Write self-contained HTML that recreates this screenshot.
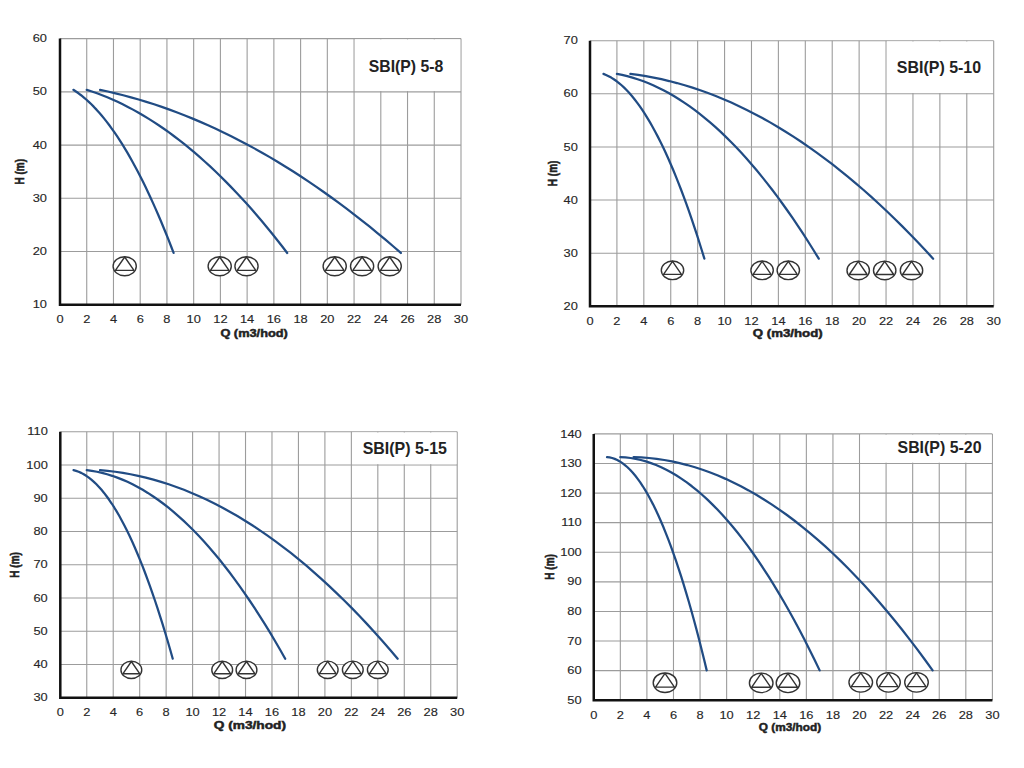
<!DOCTYPE html>
<html><head><meta charset="utf-8"><style>
html,body{margin:0;padding:0;background:#fff;}
svg{display:block;}
.tk{font-family:"Liberation Sans",sans-serif;font-size:10.2px;fill:#262626;stroke:#262626;stroke-width:0.12px;}
.lb{font-family:"Liberation Sans",sans-serif;font-size:10.0px;font-weight:bold;fill:#222;stroke:#222;stroke-width:0.45px;}
.tt{font-family:"Liberation Sans",sans-serif;font-size:15.7px;font-weight:bold;fill:#222;}
</style></head><body>
<svg width="1024" height="768" viewBox="0 0 1024 768">
<rect width="1024" height="768" fill="#fff"/>
<g stroke="#9c9c9c" stroke-width="1.1"><line x1="86.73" y1="38.6" x2="86.73" y2="304.8"/><line x1="113.47" y1="38.6" x2="113.47" y2="304.8"/><line x1="140.2" y1="38.6" x2="140.2" y2="304.8"/><line x1="166.93" y1="38.6" x2="166.93" y2="304.8"/><line x1="193.67" y1="38.6" x2="193.67" y2="304.8"/><line x1="220.4" y1="38.6" x2="220.4" y2="304.8"/><line x1="247.13" y1="38.6" x2="247.13" y2="304.8"/><line x1="273.87" y1="38.6" x2="273.87" y2="304.8"/><line x1="300.6" y1="38.6" x2="300.6" y2="304.8"/><line x1="327.33" y1="38.6" x2="327.33" y2="304.8"/><line x1="354.07" y1="38.6" x2="354.07" y2="304.8"/><line x1="380.8" y1="38.6" x2="380.8" y2="304.8"/><line x1="407.53" y1="38.6" x2="407.53" y2="304.8"/><line x1="434.27" y1="38.6" x2="434.27" y2="304.8"/><line x1="461" y1="38.6" x2="461" y2="304.8"/><line x1="60" y1="251.56" x2="461" y2="251.56"/><line x1="60" y1="198.32" x2="461" y2="198.32"/><line x1="60" y1="145.08" x2="461" y2="145.08"/><line x1="60" y1="91.84" x2="461" y2="91.84"/><line x1="60" y1="38.6" x2="461" y2="38.6"/></g>
<rect x="354.87" y="39.4" width="105.33" height="51.64" fill="#fff"/>
<text transform="translate(368.83 71.6) scale(1.0046 1)" class="tt">SBI(P) 5-8</text>
<path d="M60 38.6V304.8H461" stroke="#111" stroke-width="2.5" fill="none"/>
<g class="tk"><text transform="translate(46.94 308.4) scale(1.26 1)" text-anchor="end">10</text><text transform="translate(46.94 255.16) scale(1.26 1)" text-anchor="end">20</text><text transform="translate(46.94 201.92) scale(1.26 1)" text-anchor="end">30</text><text transform="translate(46.94 148.68) scale(1.26 1)" text-anchor="end">40</text><text transform="translate(46.94 95.44) scale(1.26 1)" text-anchor="end">50</text><text transform="translate(46.94 42.2) scale(1.26 1)" text-anchor="end">60</text><text transform="translate(60 323.4) scale(1.26 1)" text-anchor="middle">0</text><text transform="translate(86.73 323.4) scale(1.26 1)" text-anchor="middle">2</text><text transform="translate(113.47 323.4) scale(1.26 1)" text-anchor="middle">4</text><text transform="translate(140.2 323.4) scale(1.26 1)" text-anchor="middle">6</text><text transform="translate(166.93 323.4) scale(1.26 1)" text-anchor="middle">8</text><text transform="translate(193.67 323.4) scale(1.26 1)" text-anchor="middle">10</text><text transform="translate(220.4 323.4) scale(1.26 1)" text-anchor="middle">12</text><text transform="translate(247.13 323.4) scale(1.26 1)" text-anchor="middle">14</text><text transform="translate(273.87 323.4) scale(1.26 1)" text-anchor="middle">16</text><text transform="translate(300.6 323.4) scale(1.26 1)" text-anchor="middle">18</text><text transform="translate(327.33 323.4) scale(1.26 1)" text-anchor="middle">20</text><text transform="translate(354.07 323.4) scale(1.26 1)" text-anchor="middle">22</text><text transform="translate(380.8 323.4) scale(1.26 1)" text-anchor="middle">24</text><text transform="translate(407.53 323.4) scale(1.26 1)" text-anchor="middle">26</text><text transform="translate(434.27 323.4) scale(1.26 1)" text-anchor="middle">28</text><text transform="translate(461 323.4) scale(1.26 1)" text-anchor="middle">30</text></g>
<text transform="translate(23.6 171.8) scale(1.36 1) rotate(-90)" text-anchor="middle" class="lb">H (m)</text>
<text transform="translate(220.39 336.6) scale(1.2775 1)" class="lb">Q (m3/hod)</text>
<g stroke="#214c84" stroke-width="2.25" fill="none" stroke-linecap="round" stroke-linejoin="round"><path d="M73.37 89.81 L75.94 91.48 L78.51 93.29 L81.08 95.23 L83.65 97.3 L86.22 99.5 L88.79 101.84 L91.36 104.3 L93.93 106.9 L96.5 109.63 L99.07 112.5 L101.64 115.49 L104.21 118.62 L106.78 121.88 L109.35 125.27 L111.92 128.79 L114.49 132.44 L117.07 136.23 L119.64 140.15 L122.21 144.2 L124.78 148.38 L127.35 152.7 L129.92 157.15 L132.49 161.72 L135.06 166.43 L137.63 171.28 L140.2 176.25 L142.77 181.36 L145.34 186.6 L147.91 191.97 L150.48 197.47 L153.05 203.11 L155.62 208.87 L158.19 214.77 L160.76 220.8 L163.33 226.97 L165.91 233.26 L168.48 239.69 L171.05 246.25 L173.62 252.94"/><path d="M86.73 89.81 L91.87 91.48 L97.02 93.29 L102.16 95.23 L107.3 97.3 L112.44 99.5 L117.58 101.84 L122.72 104.3 L127.86 106.9 L133 109.63 L138.14 112.5 L143.28 115.49 L148.43 118.62 L153.57 121.88 L158.71 125.27 L163.85 128.79 L168.99 132.44 L174.13 136.23 L179.27 140.15 L184.41 144.2 L189.55 148.38 L194.69 152.7 L199.84 157.15 L204.98 161.72 L210.12 166.43 L215.26 171.28 L220.4 176.25 L225.54 181.36 L230.68 186.6 L235.82 191.97 L240.96 197.47 L246.11 203.11 L251.25 208.87 L256.39 214.77 L261.53 220.8 L266.67 226.97 L271.81 233.26 L276.95 239.69 L282.09 246.25 L287.23 252.94"/><path d="M100.1 89.81 L107.81 91.48 L115.52 93.29 L123.23 95.23 L130.95 97.3 L138.66 99.5 L146.37 101.84 L154.08 104.3 L161.79 106.9 L169.5 109.63 L177.22 112.5 L184.93 115.49 L192.64 118.62 L200.35 121.88 L208.06 125.27 L215.77 128.79 L223.48 132.44 L231.2 136.23 L238.91 140.15 L246.62 144.2 L254.33 148.38 L262.04 152.7 L269.75 157.15 L277.47 161.72 L285.18 166.43 L292.89 171.28 L300.6 176.25 L308.31 181.36 L316.02 186.6 L323.73 191.97 L331.45 197.47 L339.16 203.11 L346.87 208.87 L354.58 214.77 L362.29 220.8 L370 226.97 L377.72 233.26 L385.43 239.69 L393.14 246.25 L400.85 252.94"/></g>
<g stroke="#333" stroke-width="1.4" fill="#fff" stroke-linejoin="round"><ellipse cx="124.7" cy="266.2" rx="11.6" ry="9.5"/><path d="M124.7 256.99L133.98 270.38H115.42Z"/><ellipse cx="219.7" cy="266.2" rx="11.6" ry="9.5"/><path d="M219.7 256.99L228.98 270.38H210.42Z"/><ellipse cx="246.5" cy="266.2" rx="11.6" ry="9.5"/><path d="M246.5 256.99L255.78 270.38H237.22Z"/><ellipse cx="334.7" cy="266.2" rx="11.6" ry="9.5"/><path d="M334.7 256.99L343.98 270.38H325.42Z"/><ellipse cx="362.1" cy="266.2" rx="11.6" ry="9.5"/><path d="M362.1 256.99L371.38 270.38H352.82Z"/><ellipse cx="389.7" cy="266.2" rx="11.6" ry="9.5"/><path d="M389.7 256.99L398.98 270.38H380.42Z"/></g>
<g stroke="#9c9c9c" stroke-width="1.1"><line x1="616.91" y1="40.7" x2="616.91" y2="306.3"/><line x1="643.83" y1="40.7" x2="643.83" y2="306.3"/><line x1="670.74" y1="40.7" x2="670.74" y2="306.3"/><line x1="697.65" y1="40.7" x2="697.65" y2="306.3"/><line x1="724.57" y1="40.7" x2="724.57" y2="306.3"/><line x1="751.48" y1="40.7" x2="751.48" y2="306.3"/><line x1="778.39" y1="40.7" x2="778.39" y2="306.3"/><line x1="805.31" y1="40.7" x2="805.31" y2="306.3"/><line x1="832.22" y1="40.7" x2="832.22" y2="306.3"/><line x1="859.13" y1="40.7" x2="859.13" y2="306.3"/><line x1="886.05" y1="40.7" x2="886.05" y2="306.3"/><line x1="912.96" y1="40.7" x2="912.96" y2="306.3"/><line x1="939.87" y1="40.7" x2="939.87" y2="306.3"/><line x1="966.79" y1="40.7" x2="966.79" y2="306.3"/><line x1="993.7" y1="40.7" x2="993.7" y2="306.3"/><line x1="590" y1="253.18" x2="993.7" y2="253.18"/><line x1="590" y1="200.06" x2="993.7" y2="200.06"/><line x1="590" y1="146.94" x2="993.7" y2="146.94"/><line x1="590" y1="93.82" x2="993.7" y2="93.82"/><line x1="590" y1="40.7" x2="993.7" y2="40.7"/></g>
<rect x="886.85" y="41.5" width="106.05" height="51.52" fill="#fff"/>
<text transform="translate(896.82 73.1) scale(1.0184 1)" class="tt">SBI(P) 5-10</text>
<path d="M590 40.7V306.3H993.7" stroke="#111" stroke-width="2.5" fill="none"/>
<g class="tk"><text transform="translate(577.84 309.9) scale(1.26 1)" text-anchor="end">20</text><text transform="translate(577.84 256.78) scale(1.26 1)" text-anchor="end">30</text><text transform="translate(577.84 203.66) scale(1.26 1)" text-anchor="end">40</text><text transform="translate(577.84 150.54) scale(1.26 1)" text-anchor="end">50</text><text transform="translate(577.84 97.42) scale(1.26 1)" text-anchor="end">60</text><text transform="translate(577.84 44.3) scale(1.26 1)" text-anchor="end">70</text><text transform="translate(590 324.9) scale(1.26 1)" text-anchor="middle">0</text><text transform="translate(616.91 324.9) scale(1.26 1)" text-anchor="middle">2</text><text transform="translate(643.83 324.9) scale(1.26 1)" text-anchor="middle">4</text><text transform="translate(670.74 324.9) scale(1.26 1)" text-anchor="middle">6</text><text transform="translate(697.65 324.9) scale(1.26 1)" text-anchor="middle">8</text><text transform="translate(724.57 324.9) scale(1.26 1)" text-anchor="middle">10</text><text transform="translate(751.48 324.9) scale(1.26 1)" text-anchor="middle">12</text><text transform="translate(778.39 324.9) scale(1.26 1)" text-anchor="middle">14</text><text transform="translate(805.31 324.9) scale(1.26 1)" text-anchor="middle">16</text><text transform="translate(832.22 324.9) scale(1.26 1)" text-anchor="middle">18</text><text transform="translate(859.13 324.9) scale(1.26 1)" text-anchor="middle">20</text><text transform="translate(886.05 324.9) scale(1.26 1)" text-anchor="middle">22</text><text transform="translate(912.96 324.9) scale(1.26 1)" text-anchor="middle">24</text><text transform="translate(939.87 324.9) scale(1.26 1)" text-anchor="middle">26</text><text transform="translate(966.79 324.9) scale(1.26 1)" text-anchor="middle">28</text><text transform="translate(993.7 324.9) scale(1.26 1)" text-anchor="middle">30</text></g>
<text transform="translate(557 173.4) scale(1.36 1) rotate(-90)" text-anchor="middle" class="lb">H (m)</text>
<text transform="translate(752.87 337.3) scale(1.3237 1)" class="lb">Q (m3/hod)</text>
<g stroke="#214c84" stroke-width="2.25" fill="none" stroke-linecap="round" stroke-linejoin="round"><path d="M603.46 73.88 L606.04 74.92 L608.63 76.16 L611.22 77.59 L613.81 79.21 L616.4 81.03 L618.98 83.04 L621.57 85.25 L624.16 87.66 L626.75 90.25 L629.33 93.05 L631.92 96.03 L634.51 99.21 L637.1 102.59 L639.69 106.16 L642.27 109.93 L644.86 113.89 L647.45 118.04 L650.04 122.39 L652.63 126.94 L655.21 131.67 L657.8 136.61 L660.39 141.74 L662.98 147.06 L665.56 152.58 L668.15 158.29 L670.74 164.19 L673.33 170.3 L675.92 176.59 L678.5 183.08 L681.09 189.77 L683.68 196.65 L686.27 203.72 L688.85 210.99 L691.44 218.46 L694.03 226.11 L696.62 233.97 L699.21 242.01 L701.79 250.26 L704.38 258.69"/><path d="M616.91 73.88 L622.09 74.92 L627.26 76.16 L632.44 77.59 L637.62 79.21 L642.79 81.03 L647.97 83.04 L653.14 85.25 L658.32 87.66 L663.49 90.25 L668.67 93.05 L673.85 96.03 L679.02 99.21 L684.2 102.59 L689.37 106.16 L694.55 109.93 L699.72 113.89 L704.9 118.04 L710.07 122.39 L715.25 126.94 L720.43 131.67 L725.6 136.61 L730.78 141.74 L735.95 147.06 L741.13 152.58 L746.3 158.29 L751.48 164.19 L756.66 170.3 L761.83 176.59 L767.01 183.08 L772.18 189.77 L777.36 196.65 L782.53 203.72 L787.71 210.99 L792.89 218.46 L798.06 226.11 L803.24 233.97 L808.41 242.01 L813.59 250.26 L818.76 258.69"/><path d="M630.37 73.88 L638.13 74.92 L645.9 76.16 L653.66 77.59 L661.42 79.21 L669.19 81.03 L676.95 83.04 L684.71 85.25 L692.48 87.66 L700.24 90.25 L708 93.05 L715.77 96.03 L723.53 99.21 L731.3 102.59 L739.06 106.16 L746.82 109.93 L754.59 113.89 L762.35 118.04 L770.11 122.39 L777.88 126.94 L785.64 131.67 L793.4 136.61 L801.17 141.74 L808.93 147.06 L816.69 152.58 L824.46 158.29 L832.22 164.19 L839.98 170.3 L847.75 176.59 L855.51 183.08 L863.27 189.77 L871.04 196.65 L878.8 203.72 L886.56 210.99 L894.33 218.46 L902.09 226.11 L909.85 233.97 L917.62 242.01 L925.38 250.26 L933.14 258.69"/></g>
<g stroke="#333" stroke-width="1.4" fill="#fff" stroke-linejoin="round"><ellipse cx="672.5" cy="270.3" rx="11.2" ry="9.3"/><path d="M672.5 261.28L681.46 274.39H663.54Z"/><ellipse cx="762.1" cy="270.3" rx="11.2" ry="9.3"/><path d="M762.1 261.28L771.06 274.39H753.14Z"/><ellipse cx="788.3" cy="270.3" rx="11.2" ry="9.3"/><path d="M788.3 261.28L797.26 274.39H779.34Z"/><ellipse cx="858.2" cy="270.4" rx="11.2" ry="9.3"/><path d="M858.2 261.38L867.16 274.49H849.24Z"/><ellipse cx="884.7" cy="270.4" rx="11.2" ry="9.3"/><path d="M884.7 261.38L893.66 274.49H875.74Z"/><ellipse cx="911.5" cy="270.4" rx="11.2" ry="9.3"/><path d="M911.5 261.38L920.46 274.49H902.54Z"/></g>
<g stroke="#9c9c9c" stroke-width="1.1"><line x1="86.76" y1="431.7" x2="86.76" y2="697.7"/><line x1="113.22" y1="431.7" x2="113.22" y2="697.7"/><line x1="139.68" y1="431.7" x2="139.68" y2="697.7"/><line x1="166.14" y1="431.7" x2="166.14" y2="697.7"/><line x1="192.6" y1="431.7" x2="192.6" y2="697.7"/><line x1="219.06" y1="431.7" x2="219.06" y2="697.7"/><line x1="245.52" y1="431.7" x2="245.52" y2="697.7"/><line x1="271.98" y1="431.7" x2="271.98" y2="697.7"/><line x1="298.44" y1="431.7" x2="298.44" y2="697.7"/><line x1="324.9" y1="431.7" x2="324.9" y2="697.7"/><line x1="351.36" y1="431.7" x2="351.36" y2="697.7"/><line x1="377.82" y1="431.7" x2="377.82" y2="697.7"/><line x1="404.28" y1="431.7" x2="404.28" y2="697.7"/><line x1="430.74" y1="431.7" x2="430.74" y2="697.7"/><line x1="457.2" y1="431.7" x2="457.2" y2="697.7"/><line x1="60.3" y1="664.45" x2="457.2" y2="664.45"/><line x1="60.3" y1="631.2" x2="457.2" y2="631.2"/><line x1="60.3" y1="597.95" x2="457.2" y2="597.95"/><line x1="60.3" y1="564.7" x2="457.2" y2="564.7"/><line x1="60.3" y1="531.45" x2="457.2" y2="531.45"/><line x1="60.3" y1="498.2" x2="457.2" y2="498.2"/><line x1="60.3" y1="464.95" x2="457.2" y2="464.95"/><line x1="60.3" y1="431.7" x2="457.2" y2="431.7"/></g>
<rect x="352.16" y="432.5" width="104.24" height="31.65" fill="#fff"/>
<text transform="translate(362.72 454.4) scale(1.0164 1)" class="tt">SBI(P) 5-15</text>
<path d="M60.3 431.7V697.7H457.2" stroke="#111" stroke-width="2.5" fill="none"/>
<g class="tk"><text transform="translate(47.74 701.3) scale(1.26 1)" text-anchor="end">30</text><text transform="translate(47.74 668.05) scale(1.26 1)" text-anchor="end">40</text><text transform="translate(47.74 634.8) scale(1.26 1)" text-anchor="end">50</text><text transform="translate(47.74 601.55) scale(1.26 1)" text-anchor="end">60</text><text transform="translate(47.74 568.3) scale(1.26 1)" text-anchor="end">70</text><text transform="translate(47.74 535.05) scale(1.26 1)" text-anchor="end">80</text><text transform="translate(47.74 501.8) scale(1.26 1)" text-anchor="end">90</text><text transform="translate(47.77 468.55) scale(1.26 1)" text-anchor="end">100</text><text transform="translate(47.77 435.3) scale(1.26 1)" text-anchor="end">110</text><text transform="translate(60.3 716.3) scale(1.26 1)" text-anchor="middle">0</text><text transform="translate(86.76 716.3) scale(1.26 1)" text-anchor="middle">2</text><text transform="translate(113.22 716.3) scale(1.26 1)" text-anchor="middle">4</text><text transform="translate(139.68 716.3) scale(1.26 1)" text-anchor="middle">6</text><text transform="translate(166.14 716.3) scale(1.26 1)" text-anchor="middle">8</text><text transform="translate(192.6 716.3) scale(1.26 1)" text-anchor="middle">10</text><text transform="translate(219.06 716.3) scale(1.26 1)" text-anchor="middle">12</text><text transform="translate(245.52 716.3) scale(1.26 1)" text-anchor="middle">14</text><text transform="translate(271.98 716.3) scale(1.26 1)" text-anchor="middle">16</text><text transform="translate(298.44 716.3) scale(1.26 1)" text-anchor="middle">18</text><text transform="translate(324.9 716.3) scale(1.26 1)" text-anchor="middle">20</text><text transform="translate(351.36 716.3) scale(1.26 1)" text-anchor="middle">22</text><text transform="translate(377.82 716.3) scale(1.26 1)" text-anchor="middle">24</text><text transform="translate(404.28 716.3) scale(1.26 1)" text-anchor="middle">26</text><text transform="translate(430.74 716.3) scale(1.26 1)" text-anchor="middle">28</text><text transform="translate(457.2 716.3) scale(1.26 1)" text-anchor="middle">30</text></g>
<text transform="translate(19 564.9) scale(1.36 1) rotate(-90)" text-anchor="middle" class="lb">H (m)</text>
<text transform="translate(213.85 729.2) scale(1.3680 1)" class="lb">Q (m3/hod)</text>
<g stroke="#214c84" stroke-width="2.25" fill="none" stroke-linecap="round" stroke-linejoin="round"><path d="M73.53 470.12 L76.07 470.83 L78.62 471.75 L81.16 472.88 L83.71 474.24 L86.25 475.81 L88.8 477.6 L91.34 479.61 L93.88 481.84 L96.43 484.28 L98.97 486.94 L101.52 489.82 L104.06 492.92 L106.6 496.23 L109.15 499.76 L111.69 503.51 L114.24 507.47 L116.78 511.66 L119.33 516.06 L121.87 520.68 L124.41 525.51 L126.96 530.57 L129.5 535.84 L132.05 541.32 L134.59 547.03 L137.14 552.95 L139.68 559.09 L142.22 565.45 L144.77 572.03 L147.31 578.82 L149.86 585.83 L152.4 593.06 L154.95 600.5 L157.49 608.16 L160.03 616.04 L162.58 624.14 L165.12 632.46 L167.67 640.99 L170.21 649.74 L172.75 658.71"/><path d="M86.76 470.12 L91.85 470.83 L96.94 471.75 L102.03 472.88 L107.11 474.24 L112.2 475.81 L117.29 477.6 L122.38 479.61 L127.47 481.84 L132.56 484.28 L137.64 486.94 L142.73 489.82 L147.82 492.92 L152.91 496.23 L158 499.76 L163.09 503.51 L168.18 507.47 L173.26 511.66 L178.35 516.06 L183.44 520.68 L188.53 525.51 L193.62 530.57 L198.71 535.84 L203.79 541.32 L208.88 547.03 L213.97 552.95 L219.06 559.09 L224.15 565.45 L229.24 572.03 L234.33 578.82 L239.41 585.83 L244.5 593.06 L249.59 600.5 L254.68 608.16 L259.77 616.04 L264.86 624.14 L269.94 632.46 L275.03 640.99 L280.12 649.74 L285.21 658.71"/><path d="M99.99 470.12 L107.62 470.83 L115.26 471.75 L122.89 472.88 L130.52 474.24 L138.15 475.81 L145.79 477.6 L153.42 479.61 L161.05 481.84 L168.68 484.28 L176.32 486.94 L183.95 489.82 L191.58 492.92 L199.21 496.23 L206.85 499.76 L214.48 503.51 L222.11 507.47 L229.75 511.66 L237.38 516.06 L245.01 520.68 L252.64 525.51 L260.28 530.57 L267.91 535.84 L275.54 541.32 L283.17 547.03 L290.81 552.95 L298.44 559.09 L306.07 565.45 L313.71 572.03 L321.34 578.82 L328.97 585.83 L336.6 593.06 L344.24 600.5 L351.87 608.16 L359.5 616.04 L367.13 624.14 L374.77 632.46 L382.4 640.99 L390.03 649.74 L397.66 658.71"/></g>
<g stroke="#333" stroke-width="1.4" fill="#fff" stroke-linejoin="round"><ellipse cx="131.35" cy="669.9" rx="10.4" ry="8.65"/><path d="M131.35 661.51L139.67 673.71H123.03Z"/><ellipse cx="222.2" cy="669.9" rx="10.4" ry="8.65"/><path d="M222.2 661.51L230.52 673.71H213.88Z"/><ellipse cx="246.5" cy="669.9" rx="10.4" ry="8.65"/><path d="M246.5 661.51L254.82 673.71H238.18Z"/><ellipse cx="327.7" cy="669.8" rx="10.4" ry="8.65"/><path d="M327.7 661.41L336.02 673.61H319.38Z"/><ellipse cx="352.8" cy="669.8" rx="10.4" ry="8.65"/><path d="M352.8 661.41L361.12 673.61H344.48Z"/><ellipse cx="377.8" cy="669.8" rx="10.4" ry="8.65"/><path d="M377.8 661.41L386.12 673.61H369.48Z"/></g>
<g stroke="#9c9c9c" stroke-width="1.1"><line x1="620.33" y1="433.9" x2="620.33" y2="700.2"/><line x1="646.9" y1="433.9" x2="646.9" y2="700.2"/><line x1="673.48" y1="433.9" x2="673.48" y2="700.2"/><line x1="700.06" y1="433.9" x2="700.06" y2="700.2"/><line x1="726.63" y1="433.9" x2="726.63" y2="700.2"/><line x1="753.21" y1="433.9" x2="753.21" y2="700.2"/><line x1="779.79" y1="433.9" x2="779.79" y2="700.2"/><line x1="806.36" y1="433.9" x2="806.36" y2="700.2"/><line x1="832.94" y1="433.9" x2="832.94" y2="700.2"/><line x1="859.52" y1="433.9" x2="859.52" y2="700.2"/><line x1="886.09" y1="433.9" x2="886.09" y2="700.2"/><line x1="912.67" y1="433.9" x2="912.67" y2="700.2"/><line x1="939.25" y1="433.9" x2="939.25" y2="700.2"/><line x1="965.82" y1="433.9" x2="965.82" y2="700.2"/><line x1="992.4" y1="433.9" x2="992.4" y2="700.2"/><line x1="593.75" y1="670.61" x2="992.4" y2="670.61"/><line x1="593.75" y1="641.02" x2="992.4" y2="641.02"/><line x1="593.75" y1="611.43" x2="992.4" y2="611.43"/><line x1="593.75" y1="581.84" x2="992.4" y2="581.84"/><line x1="593.75" y1="552.26" x2="992.4" y2="552.26"/><line x1="593.75" y1="522.67" x2="992.4" y2="522.67"/><line x1="593.75" y1="493.08" x2="992.4" y2="493.08"/><line x1="593.75" y1="463.49" x2="992.4" y2="463.49"/><line x1="593.75" y1="433.9" x2="992.4" y2="433.9"/></g>
<rect x="860.32" y="434.7" width="131.28" height="27.99" fill="#fff"/>
<text transform="translate(897.52 453.2) scale(1.0147 1)" class="tt">SBI(P) 5-20</text>
<path d="M593.75 433.9V700.2H992.4" stroke="#111" stroke-width="2.5" fill="none"/>
<g class="tk"><text transform="translate(581.64 703.8) scale(1.26 1)" text-anchor="end">50</text><text transform="translate(581.64 674.21) scale(1.26 1)" text-anchor="end">60</text><text transform="translate(581.64 644.62) scale(1.26 1)" text-anchor="end">70</text><text transform="translate(581.64 615.03) scale(1.26 1)" text-anchor="end">80</text><text transform="translate(581.64 585.44) scale(1.26 1)" text-anchor="end">90</text><text transform="translate(581.67 555.86) scale(1.26 1)" text-anchor="end">100</text><text transform="translate(581.67 526.27) scale(1.26 1)" text-anchor="end">110</text><text transform="translate(581.67 496.68) scale(1.26 1)" text-anchor="end">120</text><text transform="translate(581.67 467.09) scale(1.26 1)" text-anchor="end">130</text><text transform="translate(581.67 437.5) scale(1.26 1)" text-anchor="end">140</text><text transform="translate(593.75 718.8) scale(1.26 1)" text-anchor="middle">0</text><text transform="translate(620.33 718.8) scale(1.26 1)" text-anchor="middle">2</text><text transform="translate(646.9 718.8) scale(1.26 1)" text-anchor="middle">4</text><text transform="translate(673.48 718.8) scale(1.26 1)" text-anchor="middle">6</text><text transform="translate(700.06 718.8) scale(1.26 1)" text-anchor="middle">8</text><text transform="translate(726.63 718.8) scale(1.26 1)" text-anchor="middle">10</text><text transform="translate(753.21 718.8) scale(1.26 1)" text-anchor="middle">12</text><text transform="translate(779.79 718.8) scale(1.26 1)" text-anchor="middle">14</text><text transform="translate(806.36 718.8) scale(1.26 1)" text-anchor="middle">16</text><text transform="translate(832.94 718.8) scale(1.26 1)" text-anchor="middle">18</text><text transform="translate(859.52 718.8) scale(1.26 1)" text-anchor="middle">20</text><text transform="translate(886.09 718.8) scale(1.26 1)" text-anchor="middle">22</text><text transform="translate(912.67 718.8) scale(1.26 1)" text-anchor="middle">24</text><text transform="translate(939.25 718.8) scale(1.26 1)" text-anchor="middle">26</text><text transform="translate(965.82 718.8) scale(1.26 1)" text-anchor="middle">28</text><text transform="translate(992.4 718.8) scale(1.26 1)" text-anchor="middle">30</text></g>
<text transform="translate(554 566.9) scale(1.36 1) rotate(-90)" text-anchor="middle" class="lb">H (m)</text>
<text transform="translate(758.73 730.6) scale(1.1850 1)" class="lb">Q (m3/hod)</text>
<g stroke="#214c84" stroke-width="2.25" fill="none" stroke-linecap="round" stroke-linejoin="round"><path d="M607.04 457.08 L609.59 457.4 L612.15 458 L614.7 458.87 L617.26 460.01 L619.82 461.41 L622.37 463.09 L624.93 465.04 L627.48 467.26 L630.04 469.75 L632.59 472.52 L635.15 475.55 L637.7 478.85 L640.26 482.43 L642.81 486.27 L645.37 490.39 L647.93 494.77 L650.48 499.43 L653.04 504.36 L655.59 509.56 L658.15 515.02 L660.7 520.76 L663.26 526.77 L665.81 533.06 L668.37 539.61 L670.92 546.43 L673.48 553.52 L676.04 560.89 L678.59 568.52 L681.15 576.43 L683.7 584.6 L686.26 593.05 L688.81 601.77 L691.37 610.75 L693.92 620.01 L696.48 629.54 L699.03 639.34 L701.59 649.41 L704.15 659.75 L706.7 670.37"/><path d="M620.33 457.08 L625.44 457.4 L630.55 458 L635.66 458.87 L640.77 460.01 L645.88 461.41 L650.99 463.09 L656.1 465.04 L661.21 467.26 L666.32 469.75 L671.44 472.52 L676.55 475.55 L681.66 478.85 L686.77 482.43 L691.88 486.27 L696.99 490.39 L702.1 494.77 L707.21 499.43 L712.32 504.36 L717.43 509.56 L722.54 515.02 L727.66 520.76 L732.77 526.77 L737.88 533.06 L742.99 539.61 L748.1 546.43 L753.21 553.52 L758.32 560.89 L763.43 568.52 L768.54 576.43 L773.65 584.6 L778.76 593.05 L783.88 601.77 L788.99 610.75 L794.1 620.01 L799.21 629.54 L804.32 639.34 L809.43 649.41 L814.54 659.75 L819.65 670.37"/><path d="M633.62 457.08 L641.28 457.4 L648.95 458 L656.61 458.87 L664.28 460.01 L671.95 461.41 L679.61 463.09 L687.28 465.04 L694.95 467.26 L702.61 469.75 L710.28 472.52 L717.94 475.55 L725.61 478.85 L733.28 482.43 L740.94 486.27 L748.61 490.39 L756.28 494.77 L763.94 499.43 L771.61 504.36 L779.28 509.56 L786.94 515.02 L794.61 520.76 L802.27 526.77 L809.94 533.06 L817.61 539.61 L825.27 546.43 L832.94 553.52 L840.61 560.89 L848.27 568.52 L855.94 576.43 L863.61 584.6 L871.27 593.05 L878.94 601.77 L886.6 610.75 L894.27 620.01 L901.94 629.54 L909.6 639.34 L917.27 649.41 L924.94 659.75 L932.6 670.37"/></g>
<g stroke="#333" stroke-width="1.4" fill="#fff" stroke-linejoin="round"><ellipse cx="665" cy="682.8" rx="11.8" ry="9.75"/><path d="M665 673.34L674.44 687.09H655.56Z"/><ellipse cx="761.2" cy="682.9" rx="11.8" ry="9.75"/><path d="M761.2 673.44L770.64 687.19H751.76Z"/><ellipse cx="788" cy="682.9" rx="11.8" ry="9.75"/><path d="M788 673.44L797.44 687.19H778.56Z"/><ellipse cx="860.75" cy="682.35" rx="11.8" ry="9.75"/><path d="M860.75 672.89L870.19 686.64H851.31Z"/><ellipse cx="888.5" cy="682.35" rx="11.8" ry="9.75"/><path d="M888.5 672.89L897.94 686.64H879.06Z"/><ellipse cx="916.5" cy="682.35" rx="11.8" ry="9.75"/><path d="M916.5 672.89L925.94 686.64H907.06Z"/></g>
</svg></body></html>
